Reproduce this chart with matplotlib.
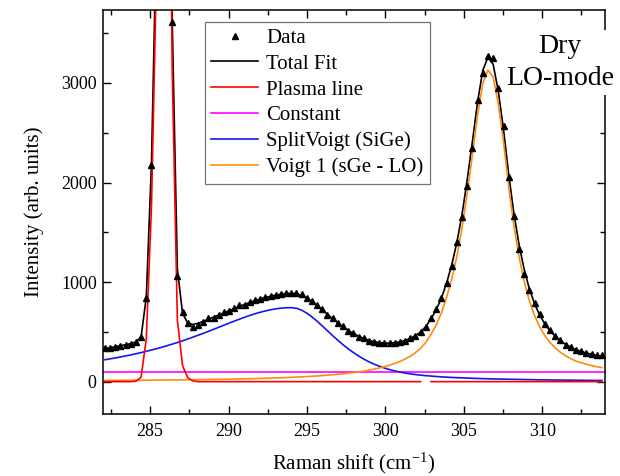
import numpy as np
import matplotlib
matplotlib.use('Agg')
import matplotlib.pyplot as plt
from matplotlib.ticker import MultipleLocator

plt.rcParams['font.family'] = ['Liberation Serif', 'DejaVu Serif']
plt.rcParams['mathtext.fontset'] = 'custom'
plt.rcParams['mathtext.rm'] = 'Liberation Serif'
plt.rcParams['mathtext.default'] = 'regular'

# Raman shift (cm-1) of the measured points
shift = [282.12, 282.45, 282.78, 283.11, 283.44, 283.77, 284.10, 284.43, 284.76, 285.09,
         285.42, 285.75, 286.08, 286.41, 286.74, 287.07, 287.40, 287.73, 288.06, 288.39,
         288.72, 289.05, 289.38, 289.71, 290.04, 290.37, 290.70, 291.03, 291.36, 291.69,
         292.02, 292.35, 292.68, 293.01, 293.34, 293.67, 294.00, 294.33, 294.66, 294.99,
         295.32, 295.65, 295.98, 296.31, 296.64, 296.97, 297.30, 297.63, 297.96, 298.29,
         298.62, 298.95, 299.28, 299.61, 299.94, 300.27, 300.60, 300.93, 301.26, 301.59,
         301.92, 302.25, 302.58, 302.91, 303.24, 303.57, 303.90, 304.23, 304.56, 304.89,
         305.22, 305.55, 305.88, 306.21, 306.54, 306.87, 307.20, 307.53, 307.86, 308.19,
         308.52, 308.85, 309.18, 309.51, 309.84, 310.17, 310.50, 310.83, 311.16, 311.49,
         311.82, 312.15, 312.48, 312.81, 313.14, 313.47, 313.80]

data = [338, 342, 348, 356, 370, 378, 398, 452, 840, 2176,
        4650, 9050, 8780, 3610, 1060, 700, 590, 552, 570, 600,
        635, 642, 665, 695, 710, 736, 768, 770, 798, 822,
        826, 848, 862, 872, 885, 890, 892, 886, 878, 845,
        812, 768, 726, 672, 640, 592, 556, 512, 488, 452,
        440, 410, 398, 388, 384, 390, 386, 402, 412, 438,
        460, 502, 548, 640, 725, 837, 995, 1165, 1400, 1657,
        1970, 2343, 2830, 3100, 3270, 3250, 2946, 2567, 2058, 1667,
        1330, 1080, 925, 790, 677, 575, 519, 462, 418, 372,
        350, 318, 305, 290, 275, 268, 266]

nan = float('nan')
plasma = [0, 0, 0, 0, 0, 0, 5, 45, 430, 1760,
          4200, 8600, 8300, 3150, 620, 160, 40, 8, 0, 0,
          0, 0, 0, 0, 0, 0, 0, 0, 0, 0,
          0, 0, 0, 0, 0, 0, 0, 0, 0, 0,
          0, 0, 0, 0, 0, 0, 0, 0, 0, 0,
          0, 0, 0, 0, 0, 0, 0, 0, 0, 0,
          0, 0, nan, 0, 0, 0, 0, 0, 0, 0,
          0, 0, 0, 0, 0, 0, 0, 0, 0, 0,
          0, 0, 0, 0, 0, 0, 0, 0, 0, 0,
          0, 0, 0, 0, 0, 0, 0]

constant = 100

sige = [220, 229, 238, 248, 258, 269, 280, 292, 305, 318,
        331, 346, 361, 377, 393, 410, 428, 447, 466, 485,
        505, 526, 546, 567, 588, 608, 628, 647, 665, 682,
        697, 710, 722, 731, 738, 742, 743, 737, 718, 688,
        650, 607, 559, 511, 462, 416, 371, 330, 292, 258,
        227, 200, 176, 155, 137, 121, 108, 96, 87, 78,
        71, 65, 60, 56, 52, 48, 45, 42, 40, 38,
        36, 34, 32, 30, 29, 27, 26, 25, 24, 23,
        22, 21, 20, 19, 18, 18, 17, 16, 16, 15,
        15, 14, 14, 13, 13, 12, 12]

voigt_lo = [12, 12, 12, 13, 13, 13, 14, 14, 15, 15,
            16, 16, 17, 17, 18, 18, 19, 20, 20, 21,
            22, 23, 23, 24, 25, 26, 28, 29, 30, 31,
            33, 34, 36, 38, 39, 41, 44, 46, 48, 51,
            54, 57, 61, 65, 69, 74, 79, 85, 91, 98,
            106, 115, 126, 137, 150, 165, 183, 203, 227, 256,
            291, 335, 395, 475, 570, 690, 845, 1030, 1260, 1545,
            1895, 2280, 2680, 2996, 3130, 3060, 2790, 2410, 1960, 1570,
            1255, 1005, 812, 663, 549, 461, 392, 339, 295, 260,
            231, 206, 190, 175, 162, 150, 140]

x = np.array(shift)
total = (np.nan_to_num(np.array(plasma, dtype=float)) + np.array(sige)
         + np.array(voigt_lo) + constant)

fig = plt.figure(figsize=(6.2, 4.76), dpi=100)
ax = fig.add_axes([103/620, 1-414/476, 502/620, 404/476])

lw = 1.2
h_tot, = ax.plot(x, total, color='black', lw=lw, zorder=2)
h_pl, = ax.plot(x, plasma, color='#FF0000', lw=lw, zorder=2.2)
h_c = ax.axhline(constant, color='#FF00FF', lw=lw, zorder=2.1)
h_sg, = ax.plot(x, sige, color='#1515F0', lw=lw, zorder=2.1)
h_v, = ax.plot(x, voigt_lo, color='#FF8A10', lw=lw, zorder=2.1)
h_d, = ax.plot(x, data, linestyle='none', marker='^', color='black',
               markersize=4.5, zorder=4)

ax.set_xlim(282, 314)
ax.set_ylim(-325, 3733)
ax.xaxis.set_major_locator(MultipleLocator(5))
ax.xaxis.set_minor_locator(MultipleLocator(2.5))
ax.yaxis.set_major_locator(MultipleLocator(1000))
ax.yaxis.set_minor_locator(MultipleLocator(500))
ax.tick_params(which='both', direction='in', top=True, right=True,
               width=1.0, colors='black')
ax.tick_params(which='major', length=6)
ax.tick_params(which='minor', length=3.5)
ax.tick_params(axis='x', labelsize=13, pad=6.5)
ax.tick_params(axis='y', labelsize=13, pad=4.5)
for s in ax.spines.values():
    s.set_linewidth(1.1)

ax.set_xlabel('Raman shift (cm$^{-1}$)', fontsize=15)
ax.set_ylabel('Intensity (arb. units)', fontsize=15)
ax.xaxis.set_label_coords(0.5, -0.09)
ax.xaxis.label.set_va('top')
ax.yaxis.set_label_coords(-0.118, 0.5)

handles = [h_d, h_tot, h_pl, h_c, h_sg, h_v]
labels = ['Data', 'Total Fit', 'Plasma line', 'Constant',
          'SplitVoigt (SiGe)', 'Voigt 1 (sGe - LO)']
leg = ax.legend(handles, labels, loc='upper left', bbox_to_anchor=(0.203, 0.970),
                borderaxespad=0, fontsize=15, frameon=True, fancybox=False,
                edgecolor='0.45', framealpha=1, handlelength=2.25,
                handletextpad=0.4, labelspacing=0.3, borderpad=0.3,
                numpoints=1)
leg.get_frame().set_linewidth(0.9)
leg.set_zorder(5)

ax.text(0.91, 0.94, 'Dry\nLO-mode', transform=ax.transAxes, ha='center',
        va='top', fontsize=20, clip_on=False, zorder=6, linespacing=1.35,
        bbox=dict(facecolor='white', edgecolor='none', pad=3))

fig.savefig('out.png', dpi=100)
